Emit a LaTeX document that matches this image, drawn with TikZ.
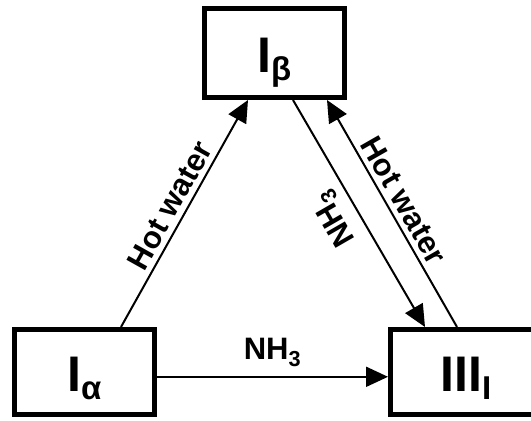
\documentclass[tikz,border=0pt]{standalone}
\usepackage{fontspec}
\setmainfont{Liberation Sans}
\usetikzlibrary{arrows.meta}
\newcommand{\boxsub}[1]{\kern-0.5pt\raisebox{-7.5pt}{\fontsize{33}{33}\selectfont #1}}
\begin{document}
\begin{tikzpicture}[x=1pt,y=1pt,
  statebox/.style={draw, line width=5pt, rectangle, minimum width=140pt, minimum height=85pt,
    font=\fontsize{50}{50}\selectfont\bfseries, text height=47pt, text depth=7pt, inner sep=0pt},
  conn/.style={line width=2pt, -{Triangle[length=22pt,width=20pt]}},
  lbl/.style={font=\fontsize{31}{31}\selectfont\bfseries, inner xsep=0pt, anchor=south}
]
\clip (0,0) rectangle (531,421);
\node[statebox, minimum height=89pt] (ib) at (274.5,368) {I\boxsub{β}};
\node[statebox] (ia) at (84.5,49) {I\boxsub{α}};
\node[statebox, minimum width=151pt] (iii) at (466,49) {III\boxsub{I}};
\draw[conn] ([xshift=36.5pt]ia.north) -- node[lbl, sloped, pos=0.5, inner ysep=5pt] {Hot water} ([xshift=-26.5pt]ib.south);
\draw[conn] ([yshift=-4.8pt]ia.east) -- node[lbl, midway, inner ysep=9pt] {NH\textsubscript{3}} ([yshift=-4.8pt]iii.west);
\draw[conn] ([xshift=18.5pt]ib.south) -- node[lbl, pos=0.47, rotate=120, inner ysep=8pt] {NH\textsubscript{3}} ([xshift=-41pt]iii.north);
\draw[conn] ([xshift=-9pt]iii.north) -- node[lbl, sloped, pos=0.52, inner ysep=5pt] {Hot water} ([xshift=52.5pt]ib.south);
\end{tikzpicture}
\end{document}
